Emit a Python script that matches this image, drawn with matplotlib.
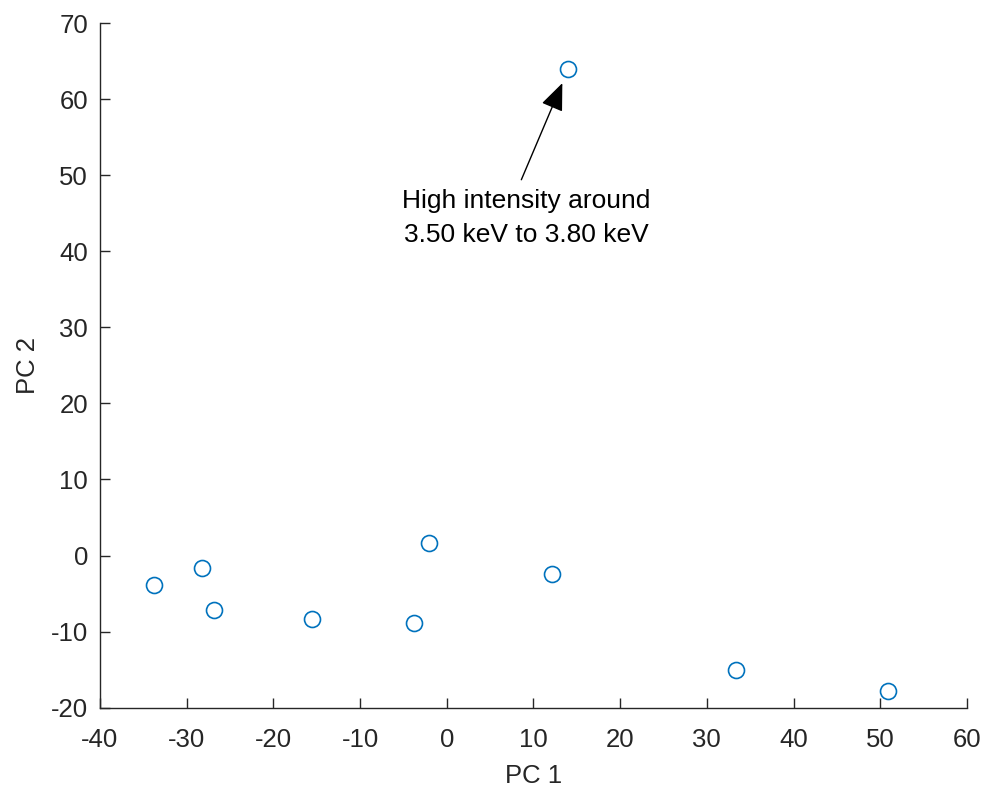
import matplotlib
matplotlib.use("Agg")
import matplotlib.pyplot as plt

pc1 = [-33.8, -28.2, -26.8, -15.6, -3.8, -2.0, 12.1, 14.0, 33.4, 50.9]
pc2 = [-3.9, -1.6, -7.2, -8.3, -8.9, 1.6, -2.4, 64.0, -15.0, -17.8]
xticks = list(range(-40, 61, 10))
yticks = list(range(-20, 71, 10))
note = "High intensity around\n3.50 keV to 3.80 keV"
note_xy = (13.33, 62.1)
note_tail = (8.6, 49.4)
note_text = (9.2, 44.4)

plt.rcParams['font.family'] = ['Liberation Sans', 'DejaVu Sans']
plt.rcParams['axes.unicode_minus'] = False
txt = '#262626'
fig = plt.figure(figsize=(9.86, 7.91), dpi=100)
ax = fig.add_axes([0.1014, 0.1053, 0.8793, 0.8656])
ax.plot(pc1, pc2, 'o', mfc='none', mec='#0072BD', ms=11.5, mew=1.2, ls='none')
ax.set_xlim(-40, 60)
ax.set_ylim(-20, 70)
ax.set_xticks(xticks)
ax.set_yticks(yticks)
ax.spines['top'].set_visible(False)
ax.spines['right'].set_visible(False)
for s in ['left', 'bottom']:
    ax.spines[s].set_color(txt)
    ax.spines[s].set_linewidth(1.0)
ax.tick_params(direction='in', length=7, width=1.0, colors=txt, labelsize=18.5)
ax.tick_params(axis='x', pad=14.5)
ax.tick_params(axis='y', pad=8.6)
ax.set_xlabel('PC 1', fontsize=18.5, color=txt, labelpad=9)
ax.set_ylabel('PC 2', fontsize=18.5, color=txt, labelpad=7.5)
ax.annotate('', xy=note_xy, xytext=note_tail,
            arrowprops=dict(arrowstyle='-|>,head_length=1.7,head_width=0.7', color='black', lw=1.0, shrinkA=0, shrinkB=0))
ax.text(note_text[0], note_text[1], note, ha='center', va='center', fontsize=19, color='black', linespacing=1.55)
fig.savefig('out.png', dpi=100)
